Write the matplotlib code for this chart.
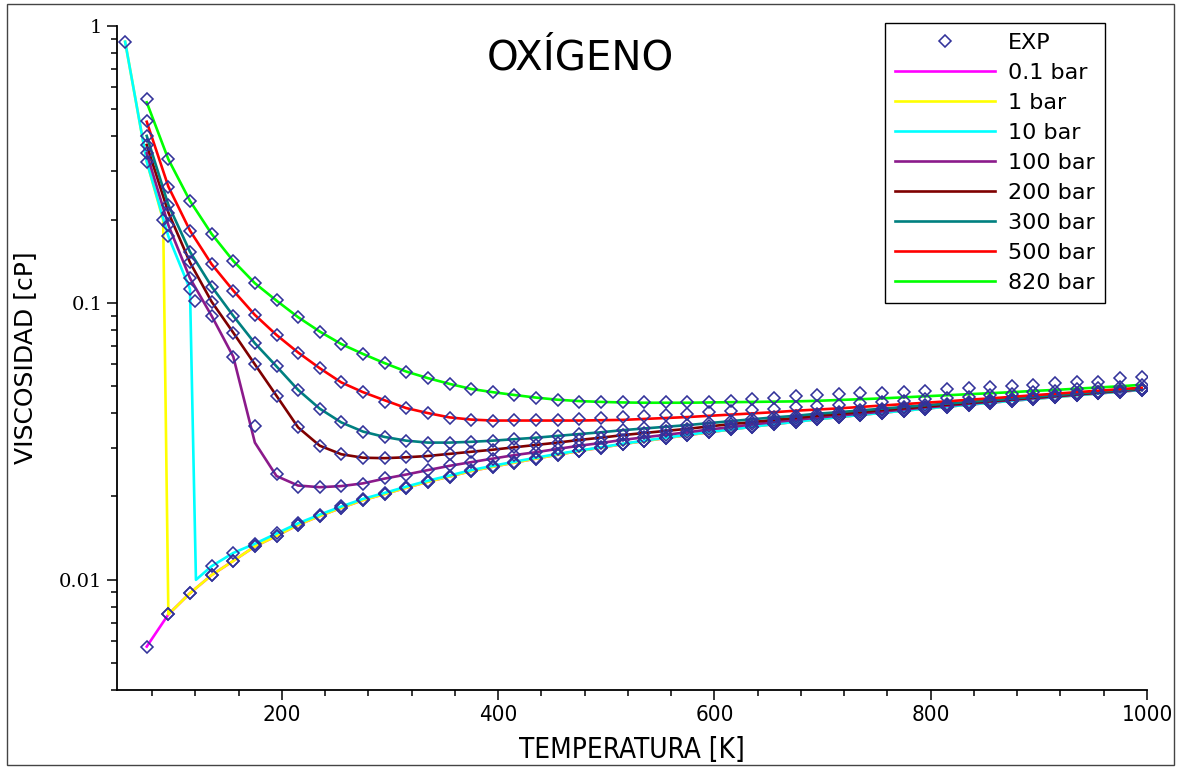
import numpy as np
import matplotlib.pyplot as plt
from matplotlib.ticker import MultipleLocator, LogLocator, NullFormatter, FixedLocator, FixedFormatter
from matplotlib.patches import Rectangle

# Temperaturas de la malla (K)
T = np.arange(75, 996, 20)

# Viscosidad del gas diluido (0.1 bar y 1 bar), cP, T = 75..995
vapor = [0.00574, 0.0075, 0.00895, 0.0104, 0.0117, 0.0132, 0.0144, 0.0158, 0.0170, 0.0182,
         0.0194, 0.0204, 0.0215, 0.0226, 0.0236, 0.0247, 0.0256, 0.0265, 0.0274, 0.0283,
         0.0292, 0.0300, 0.0309, 0.0317, 0.0325, 0.0333, 0.0341, 0.0349, 0.0357, 0.0365,
         0.0372, 0.0380, 0.0387, 0.0394, 0.0401, 0.0408, 0.0415, 0.0422, 0.0429, 0.0436,
         0.0443, 0.0450, 0.0457, 0.0464, 0.0471, 0.0478, 0.0485]

# Liquido (1 bar y 10 bar)
liq_T_1 = [55, 75, 90.2]
liq_1 = [0.878, 0.324, 0.199]
liq_T_10 = [55, 75, 95, 115, 120.5]
liq_10 = [0.878, 0.324, 0.174, 0.112, 0.0100]

# 10 bar, fase gas, T = 135..995
gas_10 = [0.0112, 0.0125, 0.0135, 0.0147, 0.0160, 0.0172, 0.0184, 0.0196, 0.0206, 0.0217,
          0.0228, 0.0238, 0.0249, 0.0258, 0.0267, 0.0276, 0.0285, 0.0293, 0.0301, 0.0310,
          0.0318, 0.0326, 0.0334, 0.0342, 0.0349, 0.0357, 0.0365, 0.0372, 0.0380, 0.0387,
          0.0394, 0.0401, 0.0408, 0.0415, 0.0422, 0.0429, 0.0436, 0.0443, 0.0450, 0.0457,
          0.0464, 0.0471, 0.0478, 0.0485]

# Isobaras supercriticas / liquido comprimido, T = 75..995
p100 = [0.347, 0.191, 0.1228, 0.0898, 0.064, 0.0313, 0.0237, 0.0219, 0.0216, 0.0218,
        0.0223, 0.0232, 0.0240, 0.0249, 0.0258, 0.0266, 0.0274, 0.0282, 0.0289, 0.0297,
        0.0305, 0.0312, 0.0320, 0.0327, 0.0334, 0.0341, 0.0349, 0.0356, 0.0364, 0.0371,
        0.0378, 0.0385, 0.0392, 0.0398, 0.0405, 0.0412, 0.0419, 0.0425, 0.0432, 0.0439,
        0.0446, 0.0452, 0.0459, 0.0466, 0.0473, 0.0480, 0.0487]
p200 = [0.372, 0.212, 0.140, 0.101, 0.0781, 0.0600, 0.0462, 0.0355, 0.0305, 0.0284,
        0.0276, 0.0275, 0.0277, 0.0280, 0.0285, 0.0290, 0.0295, 0.0301, 0.0307, 0.0313,
        0.0320, 0.0326, 0.0333, 0.0339, 0.0345, 0.0351, 0.0358, 0.0365, 0.0371, 0.0378,
        0.0384, 0.0391, 0.0397, 0.0403, 0.0410, 0.0416, 0.0422, 0.0429, 0.0435, 0.0442,
        0.0448, 0.0455, 0.0461, 0.0468, 0.0475, 0.0482, 0.0488]
p300 = [0.401, 0.226, 0.153, 0.1146, 0.0898, 0.0715, 0.0590, 0.0485, 0.0415, 0.0370,
        0.0343, 0.0328, 0.0318, 0.0313, 0.0313, 0.0315, 0.0318, 0.0322, 0.0326, 0.0331,
        0.0336, 0.0341, 0.0347, 0.0352, 0.0357, 0.0362, 0.0368, 0.0374, 0.0380, 0.0386,
        0.0391, 0.0398, 0.0403, 0.0409, 0.0415, 0.0421, 0.0427, 0.0433, 0.0439, 0.0445,
        0.0451, 0.0458, 0.0464, 0.0471, 0.0477, 0.0484, 0.0490]
p500 = [0.451, 0.263, 0.1824, 0.138, 0.1108, 0.0905, 0.0766, 0.0662, 0.0581, 0.0516,
        0.0476, 0.0445, 0.0417, 0.0400, 0.0386, 0.0379, 0.0376, 0.0376, 0.0376, 0.0376,
        0.0376, 0.0377, 0.0378, 0.0381, 0.0384, 0.0387, 0.0391, 0.0395, 0.0399, 0.0403,
        0.0408, 0.0412, 0.0416, 0.0421, 0.0426, 0.0431, 0.0436, 0.0441, 0.0447, 0.0452,
        0.0458, 0.0464, 0.0470, 0.0476, 0.0482, 0.0488, 0.0494]
p820 = [0.530, 0.330, 0.2335, 0.1775, 0.1418, 0.1178, 0.1019, 0.0888, 0.0788, 0.0710,
        0.0654, 0.0606, 0.0565, 0.0535, 0.0510, 0.0489, 0.0476, 0.0465, 0.0455, 0.0447,
        0.0442, 0.0439, 0.0437, 0.0436, 0.0436, 0.0436, 0.0437, 0.0438, 0.0439, 0.0440,
        0.0441, 0.0443, 0.0446, 0.0449, 0.0452, 0.0456, 0.0460, 0.0464, 0.0468, 0.0472,
        0.0476, 0.0481, 0.0485, 0.0490, 0.0495, 0.0500, 0.0506]

# Datos experimentales donde se separan de las curvas
exp_100 = [0.347, 0.191, 0.1228, 0.0898, 0.064, 0.0358, 0.0242, 0.0217, 0.0217, 0.0218,
           0.0222, 0.0233, 0.0240, 0.0250, 0.0259, 0.0266, 0.0273, 0.0282, 0.0289, 0.0297,
           0.0305, 0.0312, 0.0320, 0.0327, 0.0334, 0.0341, 0.0349, 0.0356, 0.0364, 0.0371,
           0.0378, 0.0385, 0.0392, 0.0398, 0.0405, 0.0412, 0.0419, 0.0425, 0.0432, 0.0439,
           0.0446, 0.0452, 0.0459, 0.0466, 0.0473, 0.0480, 0.0487]
exp_500 = [0.454, 0.263, 0.1824, 0.138, 0.1108, 0.0905, 0.0766, 0.0662, 0.0581, 0.0516,
           0.0476, 0.0440, 0.0417, 0.0400, 0.0384, 0.0378, 0.0376, 0.0377, 0.0378, 0.0379,
           0.0381, 0.0383, 0.0386, 0.0390, 0.0394, 0.0398, 0.0402, 0.0406, 0.0411, 0.0415,
           0.0420, 0.0424, 0.0429, 0.0434, 0.0439, 0.0444, 0.0449, 0.0454, 0.0459, 0.0464,
           0.0470, 0.0475, 0.0481, 0.0487, 0.0492, 0.0498, 0.0504]
exp_820 = [0.545, 0.330, 0.2335, 0.1775, 0.1418, 0.1178, 0.1025, 0.0888, 0.0788, 0.0710,
           0.0654, 0.0606, 0.0565, 0.0535, 0.0510, 0.0489, 0.0476, 0.0465, 0.0453, 0.0446,
           0.0440, 0.0437, 0.0437, 0.0437, 0.0437, 0.0437, 0.0438, 0.0441, 0.0448, 0.0455,
           0.0461, 0.0466, 0.0468, 0.0472, 0.0474, 0.0478, 0.0482, 0.0488, 0.0492, 0.0496,
           0.0502, 0.0506, 0.0513, 0.0516, 0.0520, 0.0535, 0.0542]
exp_liq_T = [55, 75, 90.2, 95, 115, 119.6]
exp_liq = [0.878, 0.324, 0.199, 0.174, 0.112, 0.102]

labels = ['0.1 bar', '1 bar', '10 bar', '100 bar', '200 bar', '300 bar', '500 bar', '820 bar']
colors = ['#ff00ff', '#ffff00', '#00ffff', '#8b1a8b', '#7f0000', '#008080', '#ff0000', '#00ff00']

fig = plt.figure(figsize=(11.78, 7.68), dpi=100)
ax = fig.add_axes([117/1178, 1 - 690/768, 1030/1178, 664/768])

T_gas10 = T[3:]
curvas = [
    (T, vapor),
    (liq_T_1 + list(T[1:]), liq_1 + vapor[1:]),
    (liq_T_10 + list(T_gas10), liq_10 + gas_10),
    (T, p100), (T, p200), (T, p300), (T, p500), (T, p820),
]
handles = []
for (x, y), lab, c in zip(curvas, labels, colors):
    h, = ax.plot(x, y, color=c, lw=1.9, label=lab, zorder=2)
    handles.append(h)

mk = dict(marker='D', ms=6.5, mfc='none', mec='#32329a', mew=1.15, ls='none', zorder=3)
exp_h, = ax.plot(T, vapor, label='EXP', **mk)
ax.plot(T[1:], vapor[1:], **mk)
ax.plot(T_gas10, gas_10, **mk)
ax.plot(exp_liq_T, exp_liq, **mk)
for serie in (exp_100, p200, p300, exp_500, exp_820):
    ax.plot(T, serie, **mk)

ax.set_yscale('log')
ax.set_xlim(47.5, 1000)
ax.set_ylim(0.004, 1)

ax.xaxis.set_major_locator(MultipleLocator(200))
ax.xaxis.set_minor_locator(MultipleLocator(40))
ax.yaxis.set_major_locator(FixedLocator([0.01, 0.1, 1]))
ax.yaxis.set_major_formatter(FixedFormatter(['0.01', '0.1', '1']))
ax.yaxis.set_minor_locator(LogLocator(base=10, subs=np.arange(2, 10)))
ax.yaxis.set_minor_formatter(NullFormatter())

ax.tick_params(which='major', direction='out', length=7, width=1.1)
ax.tick_params(which='minor', direction='out', length=4, width=1.1)
for lbl in ax.get_xticklabels():
    lbl.set_family('DejaVu Sans')
    lbl.set_stretch('condensed')
    lbl.set_fontsize(16)
for lbl in ax.get_yticklabels():
    lbl.set_family('DejaVu Serif')
    lbl.set_fontsize(14)

for s in ('top', 'right'):
    ax.spines[s].set_visible(False)
for s in ('left', 'bottom'):
    ax.spines[s].set_linewidth(1.3)

ax.set_xlabel('TEMPERATURA [K]', fontsize=20, family='DejaVu Sans', fontstretch='condensed',
              labelpad=8)
ax.set_ylabel('VISCOSIDAD [cP]', fontsize=18, labelpad=16)
ax.text((580 - 117) / 1030, (690 - 58) / 664, 'OXÍGENO', transform=ax.transAxes,
        ha='center', va='center', fontsize=29)

leg = ax.legend([exp_h] + handles, ['EXP'] + labels, loc='upper right',
                bbox_to_anchor=(1105/1178, 1 - 23/768), bbox_transform=fig.transFigure,
                borderaxespad=0, fontsize=16, numpoints=1, handlelength=4.5,
                handletextpad=0.6, labelspacing=0.45, borderpad=0.45, fancybox=False,
                framealpha=1, edgecolor='black')
leg.get_frame().set_linewidth(1.0)

fig.patches.append(Rectangle((0.006, 0.004), 0.991, 0.991, transform=fig.transFigure,
                             fill=False, ec='#444444', lw=1))

fig.savefig('out.png', dpi=100)
